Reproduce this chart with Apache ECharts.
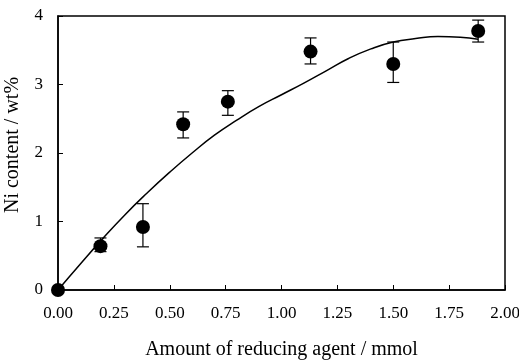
<!DOCTYPE html>
<html>
<head>
<meta charset="utf-8">
<script src="https://cdn.jsdelivr.net/npm/echarts@6/dist/echarts.min.js"></script>
<style>
  html, body { margin: 0; padding: 0; background: #fff; }
  #chart { width: 519px; height: 364px; }
</style>
</head>
<body>
<div id="chart"></div>
<script>
// measured points
let amount = [0, 0.19, 0.38, 0.56, 0.76, 1.13, 1.50, 1.88]
let niContent = [0, 0.64, 0.92, 2.42, 2.75, 3.48, 3.30, 3.78]
let errLow = [0, 0.56, 0.63, 2.22, 2.55, 3.30, 3.03, 3.62]
let errHigh = [0, 0.76, 1.26, 2.60, 2.91, 3.68, 3.62, 3.94]

// fitted curve
let curveX = [0, 0.1, 0.2, 0.3, 0.4, 0.5, 0.6, 0.7, 0.8, 0.9, 1.0, 1.1, 1.2, 1.3, 1.4, 1.5, 1.6, 1.7, 1.8, 1.88]
let curveY = [0, 0.38, 0.75, 1.1, 1.42, 1.72, 2.0, 2.26, 2.48, 2.68, 2.85, 3.02, 3.2, 3.38, 3.52, 3.62, 3.67, 3.70, 3.69, 3.66]

let xTicks = ['0.00', '0.25', '0.50', '0.75', '1.00', '1.25', '1.50', '1.75', '2.00']

let font = 'Liberation Serif'

let chart = echarts.init(document.getElementById('chart'))

let option = {
    animation: false,
    grid: {
        left: 58, right: 14, top: 16, bottom: 74,
        outerBoundsMode: 'none',
        containLabel: false,
        show: true,
        borderColor: '#000',
        borderWidth: 1.5
    },
    xAxis: {
        type: 'value',
        min: 0, max: 2, interval: 0.25,
        name: 'Amount of reducing agent / mmol',
        nameLocation: 'middle',
        nameGap: 50,
        nameTextStyle: {color: '#000', fontFamily: font, fontSize: 20},
        axisLine: {show: true, lineStyle: {color: '#000', width: 1.5}},
        axisTick: {show: true, inside: true, length: 5, lineStyle: {color: '#000'}},
        axisLabel: {
            color: '#000', fontFamily: font, fontSize: 17, margin: 15,
            formatter: function (v) { return xTicks[Math.round(v / 0.25)] }
        },
        splitLine: {show: false}
    },
    yAxis: {
        type: 'value',
        min: 0, max: 4, interval: 1,
        name: 'Ni content / wt%',
        nameLocation: 'middle',
        nameGap: 35,
        nameTextStyle: {color: '#000', fontFamily: font, fontSize: 20, padding: [0, 0, 0, 16]},
        axisLine: {show: true, lineStyle: {color: '#000', width: 1.5}},
        axisTick: {show: true, inside: true, length: 5, lineStyle: {color: '#000'}},
        axisLabel: {color: '#000', fontFamily: font, fontSize: 17, margin: 15},
        splitLine: {show: false}
    },
    series: [
        {
            type: 'line',
            data: curveX.map(function (x, i) { return [x, curveY[i]] }),
            smooth: true,
            showSymbol: false,
            lineStyle: {color: '#000', width: 1.5},
            z: 2
        },
        {
            type: 'custom',
            data: amount.map(function (x, i) { return [x, errLow[i], errHigh[i]] }),
            renderItem: function (params, api) {
                let lo = api.coord([api.value(0), api.value(1)])
                let hi = api.coord([api.value(0), api.value(2)])
                let cap = 6
                let st = {stroke: '#000', lineWidth: 1.2}
                return {
                    type: 'group',
                    children: [
                        {type: 'line', shape: {x1: lo[0], y1: lo[1], x2: hi[0], y2: hi[1]}, style: st},
                        {type: 'line', shape: {x1: lo[0] - cap, y1: lo[1], x2: lo[0] + cap, y2: lo[1]}, style: st},
                        {type: 'line', shape: {x1: hi[0] - cap, y1: hi[1], x2: hi[0] + cap, y2: hi[1]}, style: st}
                    ]
                }
            },
            z: 3
        },
        {
            type: 'scatter',
            data: amount.map(function (x, i) { return [x, niContent[i]] }),
            symbol: 'circle',
            symbolSize: 14,
            itemStyle: {color: '#000', opacity: 1},
            z: 4
        }
    ]
}

chart.setOption(option)
</script>
</body>
</html>
